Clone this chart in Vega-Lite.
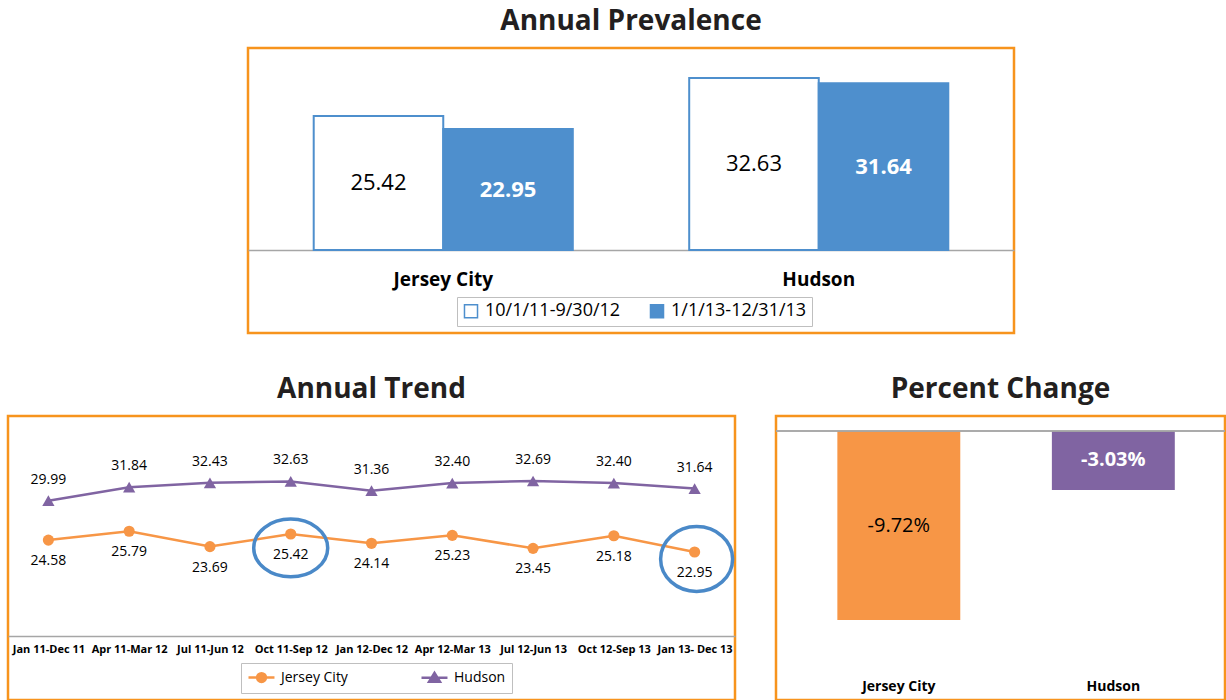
{
  "$schema": "https://vega.github.io/schema/vega-lite/v6.json",
  "padding": {"left": 6, "top": 6, "right": 0, "bottom": 0},
  "background": "white",
  "spacing": 39,
  "config": {
    "font": "Open Sans",
    "view": {"stroke": "#F7941D", "strokeWidth": 2.5},
    "title": {"font": "Open Sans", "fontSize": 28, "fontWeight": "bold", "color": "#231F20", "anchor": "middle", "frame": "group", "offset": 12},
    "axis": {"labelFont": "Open Sans", "labelColor": "#000000"},
    "legend": {"labelFont": "Open Sans", "labelColor": "#000000"},
    "text": {"font": "Open Sans"}
  },
  "vconcat": [
    {
      "spacing": 237,
      "hconcat": [
        {
          "width": 1,
          "height": 285,
          "view": {"stroke": null},
          "data": {"values": [{"blank": 0}]},
          "mark": {"type": "point", "opacity": 0, "size": 0, "strokeWidth": 0},
          "encoding": {}
        },
        {
          "title": "Annual Prevalence",
          "width": 766,
          "height": 285,
          "data": {"values": [
            {"city": "Jersey City", "period": "10/1/11-9/30/12", "value": 25.42},
            {"city": "Jersey City", "period": "1/1/13-12/31/13", "value": 22.95},
            {"city": "Hudson", "period": "10/1/11-9/30/12", "value": 32.63},
            {"city": "Hudson", "period": "1/1/13-12/31/13", "value": 31.64}
          ]},
          "encoding": {
            "x": {"field": "city", "type": "nominal", "sort": ["Jersey City", "Hudson"],
                  "scale": {"paddingInner": 0.31, "paddingOuter": 0.175},
                  "axis": {"title": null, "offset": -83, "labelAngle": 0, "labelFontSize": 19, "labelFontWeight": "bold", "labelPadding": 20, "ticks": false, "domainColor": "#A6A6A6", "domainWidth": 1.5}},
            "xOffset": {"field": "period", "type": "nominal", "sort": ["10/1/11-9/30/12", "1/1/13-12/31/13"]}
          },
          "layer": [
            {
              "mark": {"type": "bar", "stroke": "#4E8FCD", "strokeWidth": 2},
              "encoding": {
                "y": {"field": "value", "type": "quantitative", "scale": {"domain": [-15.75, 38.33], "nice": false, "zero": false}, "axis": null},
                "y2": {"datum": 0},
                "fill": {"field": "period", "type": "nominal", "sort": ["10/1/11-9/30/12", "1/1/13-12/31/13"],
                         "scale": {"domain": ["10/1/11-9/30/12", "1/1/13-12/31/13"], "range": ["#FFFFFF", "#4E8FCD"]},
                         "legend": {"orient": "none", "legendX": 449, "legendY": 249, "direction": "horizontal", "title": null, "labelFontSize": 18, "symbolType": "square", "symbolSize": 170, "strokeColor": "#BFBFBF", "padding": 5, "columnPadding": 26, "labelOffset": 5,
                                    "encode": {"symbols": {"update": {"stroke": {"value": "#4E8FCD"}, "strokeWidth": {"value": 1.5}}}}}}
              }
            },
            {
              "transform": [{"filter": "datum.period === '10/1/11-9/30/12'"}],
              "mark": {"type": "text", "fontSize": 22, "color": "#000000", "baseline": "middle"},
              "encoding": {
                "y": {"field": "value", "type": "quantitative", "scale": {"domain": [-31.5, 76.66], "nice": false, "zero": false}, "axis": null},
                "text": {"field": "value", "type": "quantitative", "format": ".2f"}
              }
            },
            {
              "transform": [{"filter": "datum.period === '1/1/13-12/31/13'"}],
              "mark": {"type": "text", "fontSize": 22, "fontWeight": "bold", "color": "#FFFFFF", "baseline": "middle"},
              "encoding": {
                "y": {"field": "value", "type": "quantitative", "scale": {"domain": [-31.5, 76.66], "nice": false, "zero": false}, "axis": null},
                "text": {"field": "value", "type": "quantitative", "format": ".2f"}
              }
            }
          ],
          "resolve": {"scale": {"y": "independent"}}
        }
      ]
    },
    {
      "spacing": 33,
      "hconcat": [
        {
          "title": "Annual Trend",
          "width": 727,
          "height": 284,
          "data": {"values": [
            {"period": "Jan 11-Dec 11", "series": "Jersey City", "value": 24.58},
            {"period": "Apr 11-Mar 12", "series": "Jersey City", "value": 25.79},
            {"period": "Jul 11-Jun 12", "series": "Jersey City", "value": 23.69},
            {"period": "Oct 11-Sep 12", "series": "Jersey City", "value": 25.42},
            {"period": "Jan 12-Dec 12", "series": "Jersey City", "value": 24.14},
            {"period": "Apr 12-Mar 13", "series": "Jersey City", "value": 25.23},
            {"period": "Jul 12-Jun 13", "series": "Jersey City", "value": 23.45},
            {"period": "Oct 12-Sep 13", "series": "Jersey City", "value": 25.18},
            {"period": "Jan 13- Dec 13", "series": "Jersey City", "value": 22.95},
            {"period": "Jan 11-Dec 11", "series": "Hudson", "value": 29.99},
            {"period": "Apr 11-Mar 12", "series": "Hudson", "value": 31.84},
            {"period": "Jul 11-Jun 12", "series": "Hudson", "value": 32.43},
            {"period": "Oct 11-Sep 12", "series": "Hudson", "value": 32.63},
            {"period": "Jan 12-Dec 12", "series": "Hudson", "value": 31.36},
            {"period": "Apr 12-Mar 13", "series": "Hudson", "value": 32.40},
            {"period": "Jul 12-Jun 13", "series": "Hudson", "value": 32.69},
            {"period": "Oct 12-Sep 13", "series": "Hudson", "value": 32.40},
            {"period": "Jan 13- Dec 13", "series": "Hudson", "value": 31.64}
          ]},
          "encoding": {
            "x": {"field": "period", "type": "nominal",
                  "sort": ["Jan 11-Dec 11", "Apr 11-Mar 12", "Jul 11-Jun 12", "Oct 11-Sep 12", "Jan 12-Dec 12", "Apr 12-Mar 13", "Jul 12-Jun 13", "Oct 12-Sep 13", "Jan 13- Dec 13"],
                  "scale": {"type": "point", "padding": 0.5},
                  "axis": {"title": null, "offset": -64, "labelAngle": 0, "labelFontSize": 11, "labelFontWeight": "bold", "labelPadding": 7, "ticks": false, "domainColor": "#A6A6A6", "domainWidth": 1.5}},
            "y": {"field": "value", "type": "quantitative", "scale": {"domain": [2.65, 41.6], "nice": false, "zero": false}, "axis": null}
          },
          "layer": [
            {
              "mark": {"type": "line", "strokeWidth": 2.5},
              "encoding": {
                "color": {"field": "series", "type": "nominal", "scale": {"domain": ["Jersey City", "Hudson"], "range": ["#F79646", "#8064A2"]},
                          "legend": {"orient": "none", "legendX": 233, "legendY": 615, "direction": "horizontal", "title": null, "labelFontSize": 14, "symbolSize": 196, "padding": 6, "strokeColor": "#BFBFBF", "columnPadding": 68, "labelOffset": 17,
                                     "encode": {"symbols": {"update": {
                                       "shape": {"signal": "datum.value === 'Jersey City' ? 'M-1,0L2.71,0M1.49,0A0.63,0.63,0,1,1,0.23,0A0.63,0.63,0,1,1,1.49,0Z' : 'M-1,0L2.71,0M0.857,-0.7L1.64,0.56L0.08,0.56Z'"},
                                       "fill": {"signal": "datum.value === 'Jersey City' ? '#F79646' : '#8064A2'"},
                                       "stroke": {"signal": "datum.value === 'Jersey City' ? '#F79646' : '#8064A2'"},
                                       "strokeWidth": {"value": 2.5},
                                       "size": {"value": 196},
                                       "opacity": {"value": 1}
                                     }}}}}
              }
            },
            {
              "transform": [{"filter": "datum.series === 'Jersey City'"}],
              "mark": {"type": "point", "shape": "circle", "filled": true, "opacity": 1, "size": 125},
              "encoding": {
                "color": {"field": "series", "type": "nominal", "scale": {"domain": ["Jersey City", "Hudson"], "range": ["#F79646", "#8064A2"]}}
              }
            },
            {
              "transform": [{"filter": "datum.series === 'Hudson'"}],
              "mark": {"type": "point", "shape": "triangle-up", "filled": true, "opacity": 1, "size": 150},
              "encoding": {
                "color": {"field": "series", "type": "nominal", "scale": {"domain": ["Jersey City", "Hudson"], "range": ["#F79646", "#8064A2"]}}
              }
            },
            {
              "transform": [{"filter": "datum.series === 'Hudson'"}],
              "mark": {"type": "text", "fontSize": 14, "color": "#000000", "dy": -21, "baseline": "middle"},
              "encoding": {"text": {"field": "value", "type": "quantitative", "format": ".2f"}}
            },
            {
              "transform": [{"filter": "datum.series === 'Jersey City'"}],
              "mark": {"type": "text", "fontSize": 14, "color": "#000000", "dy": 21, "baseline": "middle"},
              "encoding": {"text": {"field": "value", "type": "quantitative", "format": ".2f"}}
            },
            {
              "transform": [{"filter": "datum.series === 'Jersey City' && datum.period === 'Oct 11-Sep 12'"}],
              "mark": {"type": "point", "shape": "M-1,0A1,0.78,0,1,1,1,0A1,0.78,0,1,1,-1,0Z", "filled": false, "stroke": "#4A89C8", "strokeWidth": 3.5, "size": 5476, "yOffset": 14, "opacity": 1}
            },
            {
              "transform": [{"filter": "datum.series === 'Jersey City' && datum.period === 'Jan 13- Dec 13'"}],
              "mark": {"type": "point", "shape": "M-1,0A1,0.9,0,1,1,1,0A1,0.9,0,1,1,-1,0Z", "filled": false, "stroke": "#4A89C8", "strokeWidth": 3.5, "size": 5184, "xOffset": 2, "yOffset": 7, "opacity": 1}
            }
          ]
        },
        {
          "title": "Percent Change",
          "width": 449,
          "height": 284,
          "data": {"values": [
            {"city": "Jersey City", "change": -9.72, "label": "-9.72%"},
            {"city": "Hudson", "change": -3.03, "label": "-3.03%"}
          ]},
          "layer": [
            {
              "mark": {"type": "bar"},
              "encoding": {
                "x": {"field": "city", "type": "nominal", "sort": ["Jersey City", "Hudson"], "scale": {"paddingInner": 0.427, "paddingOuter": 0.26, "align": 0.55},
                      "axis": {"title": null, "offset": -21, "labelAngle": 0, "labelFontSize": 14, "labelFontWeight": "bold", "labelPadding": 0, "ticks": false, "tickSize": 0, "domain": false}},
                "y": {"field": "change", "type": "quantitative", "scale": {"domain": [-13.83, 0.77], "nice": false, "zero": false}, "axis": null},
                "y2": {"datum": 0},
                "color": {"field": "city", "type": "nominal", "scale": {"domain": ["Jersey City", "Hudson"], "range": ["#F79646", "#8064A2"]}, "legend": null}
              }
            },
            {
              "mark": {"type": "rule", "color": "#A6A6A6", "strokeWidth": 1.5},
              "encoding": {
                "y": {"datum": 0, "type": "quantitative", "scale": {"domain": [-13.83, 0.77], "nice": false, "zero": false}, "axis": null}
              }
            },
            {
              "transform": [{"filter": "datum.city === 'Jersey City'"}],
              "mark": {"type": "text", "fontSize": 20, "color": "#000000", "baseline": "middle"},
              "encoding": {
                "x": {"field": "city", "type": "nominal", "sort": ["Jersey City", "Hudson"]},
                "y": {"field": "change", "type": "quantitative", "scale": {"domain": [-27.66, 1.54], "nice": false, "zero": false}, "axis": null},
                "text": {"field": "label", "type": "nominal"}
              }
            },
            {
              "transform": [{"filter": "datum.city === 'Hudson'"}],
              "mark": {"type": "text", "fontSize": 20, "fontWeight": "bold", "color": "#FFFFFF", "baseline": "middle"},
              "encoding": {
                "x": {"field": "city", "type": "nominal", "sort": ["Jersey City", "Hudson"]},
                "y": {"field": "change", "type": "quantitative", "scale": {"domain": [-27.66, 1.54], "nice": false, "zero": false}, "axis": null},
                "text": {"field": "label", "type": "nominal"}
              }
            }
          ],
          "resolve": {"scale": {"y": "independent"}}
        }
      ]
    }
  ]
}
